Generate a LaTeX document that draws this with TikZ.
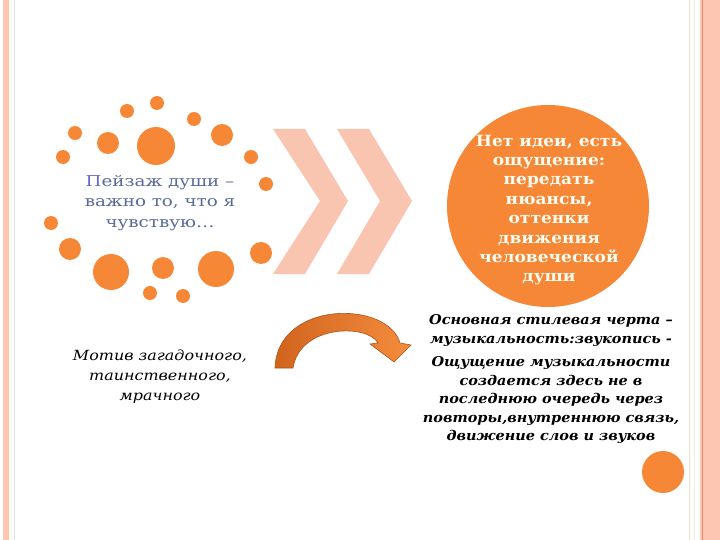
\documentclass[tikz,border=0pt]{standalone}
\usepackage{fontspec}
\setmainfont{DejaVu Serif}
\newfontfamily\bluefont[FakeStretch=1.22]{DejaVu Serif}
\newfontfamily\circfont[FakeStretch=1.1]{DejaVu Serif}
\newfontfamily\motivfont[FakeStretch=1.14]{DejaVu Serif}
\newfontfamily\mainfont[FakeStretch=1.07]{DejaVu Serif}
\definecolor{dotor}{RGB}{245,135,55}
\definecolor{chev}{RGB}{250,197,176}
\definecolor{band}{RGB}{252,198,178}
\definecolor{bandline}{RGB}{232,140,100}
\definecolor{slate}{RGB}{88,106,150}
\definecolor{slateP}{RGB}{105,105,200}
\definecolor{arrdark}{RGB}{208,100,30}
\definecolor{arrlight}{RGB}{245,140,60}
\definecolor{arredge}{RGB}{170,85,25}
\definecolor{cream}{RGB}{255,252,240}
\begin{document}
\begin{tikzpicture}[x=1pt,y=-1pt,
  dot/.style={circle,fill=dotor,draw=none,inner sep=0pt},
  chevron/.style={fill=chev,draw=none},
  bluetext/.style={text=slate,align=center,font=\bluefont\fontsize{15}{20.5}\selectfont},
  circtext/.style={text=cream,align=center,font=\circfont\bfseries\fontsize{15.5}{19.4}\selectfont},
  motivtext/.style={text=black,align=center,font=\motivfont\itshape\fontsize{14}{20}\selectfont},
  maintext/.style={text=black,align=center,font=\mainfont\bfseries\itshape\fontsize{13.5}{18.6}\selectfont}]
\useasboundingbox (0,0) rectangle (720,540);
% borders
\fill[band] (3,0) rectangle (9,540);
\draw[line width=0.8pt,color=yellow!20!white] (11.5,0) -- (11.5,540);
\draw[line width=0.8pt,color=blue!10!white] (14,0) -- (14,540);
\draw[line width=0.8pt,color=brown!25!white] (689.5,0) -- (689.5,540);
\draw[line width=0.8pt,color=brown!15!white] (694,0) -- (694,540);
\fill[band] (700,0) rectangle (720,540);
\draw[line width=1pt,color=bandline] (702,0) -- (702,540);
% dots
\node[dot,minimum size=14] (d1) at (157,103) {};
\node[dot,minimum size=14] (d2) at (127,111) {};
\node[dot,minimum size=14] (d3) at (194,119) {};
\node[dot,minimum size=14] (d4) at (75,133) {};
\node[dot,minimum size=22] (d5) at (108,143) {};
\node[dot,minimum size=38] (d6) at (156,146) {};
\node[dot,minimum size=22] (d7) at (222,135) {};
\node[dot,minimum size=14] (d8) at (63,157) {};
\node[dot,minimum size=14] (d9) at (251,157) {};
\node[dot,minimum size=14] (d10) at (266,184) {};
\node[dot,minimum size=14] (d11) at (51,223) {};
\node[dot,minimum size=22] (d12) at (70,249) {};
\node[dot,minimum size=36] (d13) at (111,272) {};
\node[dot,minimum size=22] (d14) at (163,268) {};
\node[dot,minimum size=36] (d15) at (216,269) {};
\node[dot,minimum size=22] (d16) at (261,253) {};
\node[dot,minimum size=14] (d17) at (150,293) {};
\node[dot,minimum size=14] (d18) at (183,296) {};
\node[bluetext] (soul) at (160,203) {\textcolor{slateP}{П}ейзаж души –\\важно то, что я\\чувствую…};
% chevrons
\fill[chevron] (273,129) -- (305,129) -- (348,201) -- (305,274) -- (273,274) -- (320,201) -- cycle;
\fill[chevron] (337,129) -- (369,129) -- (412,201) -- (369,274) -- (337,274) -- (380,201) -- cycle;
% big circle
\node[circle,fill=dotor,minimum size=202,inner sep=0pt] (big) at (548,206) {};
\node[circtext] (idea) at (549,210) {Нет идеи, есть\\ощущение:\\передать\\нюансы,\\оттенки\\движения\\человеческой\\души};
% curved arrow
\path[left color=arrdark,right color=arrlight,draw=arredge,line width=0.6pt]
  (275,368) .. controls (277,300) and (388,300) .. (400,343)
  -- (411,345) -- (394,362) -- (370,344) -- (378,343)
  .. controls (368,324) and (300,324) .. (293,368) -- cycle;
\node[motivtext] (motiv) at (160,377) {Мотив загадочного,\\таинственного,\\мрачного};
\node[maintext,anchor=north] (main1) at (551,311) {Основная стилевая черта –\\музыкальность:звукопись -};
\node[maintext,anchor=north] (main2) at (551,353) {Ощущение музыкальности\\создается здесь не в\\последнюю очередь через\\повторы,внутреннюю связь,\\движение слов и звуков};
\node[dot,minimum size=42] (d19) at (663,472) {};
\end{tikzpicture}
\end{document}
